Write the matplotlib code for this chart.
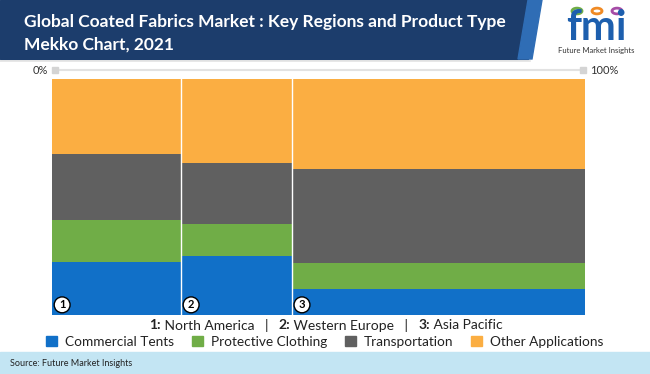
import matplotlib.pyplot as plt
import numpy as np
from matplotlib.patches import Rectangle, Polygon, Circle

plt.rcParams['font.family'] = ['Lato', 'DejaVu Sans']

# data (percent)
regions = ["North America", "Western Europe", "Asia Pacific"]
region_share = [24.2, 20.8, 55.0]
products = ["Commercial Tents", "Protective Clothing", "Transportation", "Other Applications"]
commercial_tents = [22.5, 25.0, 11.0]
protective_clothing = [17.8, 13.4, 11.0]
transportation = [28.0, 26.1, 39.7]
other_applications = [31.7, 35.5, 38.3]
colors = ["#1170c8", "#70ad47", "#606060", "#fbae42"]

W, H = 650, 374
fig = plt.figure(figsize=(W / 100, H / 100), dpi=100)

def fx(px):
    return px / W

def fy(py):
    return 1 - py / H

# header band
fig.patches.append(Rectangle((0, fy(59)), fx(528), 59 / H, transform=fig.transFigure,
                             color="#1c3d6c", zorder=0))
fig.patches.append(Polygon([(fx(518), fy(59)), (fx(528), 1), (fx(542), 1), (fx(532), fy(59))],
                           closed=True, transform=fig.transFigure, color="#2f6db5", zorder=0))
fig.add_artist(plt.Line2D([0, fx(530)], [fy(61), fy(61)], color="#e3e3e3", lw=1.2))
fig.text(fx(24), fy(22), "Global Coated Fabrics Market : Key Regions and Product Type",
         color="white", fontsize=12.5, fontweight="bold", va="center", ha="left")
fig.text(fx(24), fy(45), "Mekko Chart, 2021",
         color="white", fontsize=12.5, fontweight="bold", va="center", ha="left")

# logo (approximation)
fig.text(fx(596), fy(28), "fmi", color="#1d5fae", fontsize=30, fontweight="bold",
         ha="center", va="center")
for cx, c in zip([577, 597, 617], ["#70ad47", "#f08a24", "#a64ca6"]):
    fig.patches.append(Circle((fx(cx), fy(11)), 5 / W, transform=fig.transFigure,
                              facecolor="white", edgecolor=c, lw=2))
fig.text(fx(596), fy(50), "Future Market Insights", color="#333333", fontsize=5.5,
         ha="center", va="center")

# source band
fig.patches.append(Rectangle((0, 0), 1, 22 / H, transform=fig.transFigure,
                             color="#c3e5f3", zorder=0))
fig.text(fx(10), fy(363), "Source: Future Market Insights", fontsize=6.5,
         color="#222222", va="center")

# top 0% / 100% scale
fig.add_artist(plt.Line2D([fx(55), fx(583)], [fy(70), fy(70)], color="#e2e2e2", lw=1.5))
fig.add_artist(plt.Line2D([fx(55), fx(583)], [fy(70), fy(70)], ls="none", marker="s",
                          ms=5, color="#d4d4d4"))
fig.text(fx(48), fy(70), "0%", fontsize=8, color="#333333", ha="right", va="center")
fig.text(fx(590), fy(70), "100%", fontsize=8, color="#333333", ha="left", va="center")

# mekko
ax = fig.add_axes([fx(52), fy(315), 533 / W, 236 / H])
lefts = np.concatenate([[0], np.cumsum(region_share)[:-1]])
series = [commercial_tents, protective_clothing, transportation, other_applications]
bottom = np.zeros(len(regions))
for vals, col, name in zip(series, colors, products):
    ax.bar(lefts, vals, width=region_share, bottom=bottom, align="edge",
           color=col, linewidth=0, label=name)
    bottom += np.array(vals)
for x in lefts[1:]:
    ax.axvline(x, color="white", lw=1)
ax.set_xlim(0, 100)
ax.set_ylim(0, 100)
ax.axis("off")

for i, x in enumerate(lefts):
    ax.text(x + 1.9, 4.3, str(i + 1), fontsize=8, fontweight="bold", ha="center", va="center",
            bbox=dict(boxstyle="circle,pad=0.22", fc="white", ec="black", lw=1))

# region key
parts = [("1:", True), (" North America   |   ", False), ("2:", True),
         (" Western Europe   |   ", False), ("3:", True), (" Asia Pacific", False)]
renderer = fig.canvas.get_renderer()
texts = []
for s, b in parts:
    t = fig.text(0, fy(325), s, fontsize=10, fontweight="bold" if b else "normal",
                 color="#222222", va="center")
    texts.append(t)
widths = [t.get_window_extent(renderer).width for t in texts]
start = 326 - sum(widths) / 2
for t, w in zip(texts, widths):
    t.set_x(fx(start))
    start += w

# product legend
handles = [Rectangle((0, 0), 1, 1, color=c) for c in colors]
fig.legend(handles, products, loc="center", bbox_to_anchor=(fx(325), fy(342)), ncol=4,
           frameon=False, fontsize=9.8, handlelength=0.8, handleheight=0.8,
           handletextpad=0.6, columnspacing=1.3, labelcolor="#222222")

fig.savefig("out.png", dpi=100)
